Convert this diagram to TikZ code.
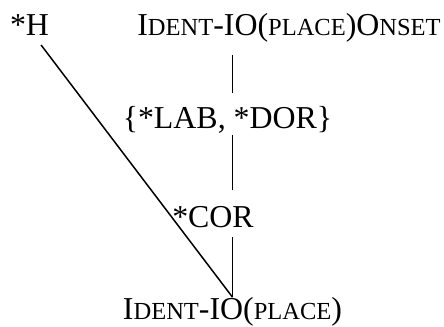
\documentclass[tikz,border=0pt]{standalone}
\usepackage{fontspec}
\setmainfont{Liberation Serif}
% small capitals built from reduced uppercase letters
\newcommand{\smallcapsx}[1]{{\fontsize{24.6}{28}\selectfont #1}}
\begin{document}
\begin{tikzpicture}[x=1bp,y=-1bp,
  lbl/.style={anchor=base,inner sep=0pt,font=\fontsize{32}{38}\selectfont},
  link/.style={line width=1.5bp}]
\useasboundingbox (0,0) rectangle (444,326);

\node[lbl] (h)      at (29.5,35)  {*H};
\node[lbl] (onset)  at (289,35)   {I\smallcapsx{DENT}-IO(\smallcapsx{PLACE})O\smallcapsx{NSET}};
\node[lbl] (labdor) at (227.5,128) {\{*LAB, *DOR\}};
\node[lbl] (cor)    at (213,227)  {*COR};
\node[lbl] (ident)  at (232.5,319.5) {I\smallcapsx{DENT}-IO(\smallcapsx{PLACE})};

% vertical chain down to the bottom constraint
\draw[link,shorten <=20bp,shorten >=35bp] (ident.north |- onset.base) -- (ident.north |- labdor.base);
\draw[link,shorten <=7bp,shorten >=37bp]  (ident.north |- labdor.base) -- (ident.north |- cor.base);
\draw[link,shorten <=10bp]                (ident.north |- cor.base) -- (ident.north);

% diagonal from *H
\draw[link,shorten <=12.5bp] ([xshift=4bp]h.base) -- (ident.north);
\end{tikzpicture}
\end{document}
